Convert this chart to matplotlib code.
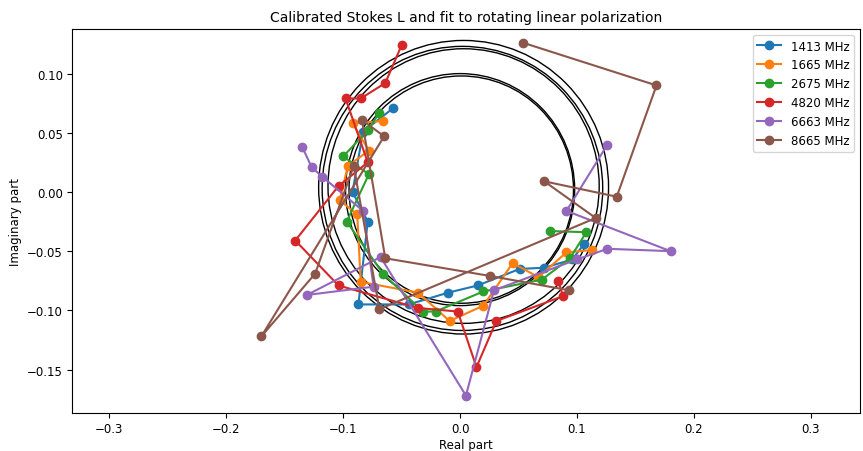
import numpy as np
import matplotlib.pyplot as plt
from matplotlib.patches import Circle

freqs = ['1413 MHz', '1665 MHz', '2675 MHz', '4820 MHz', '6663 MHz', '8665 MHz']

re_1413 = [-0.057, -0.083, -0.092, -0.079, -0.087, -0.044, -0.010, 0.015, 0.051, 0.072, 0.096, 0.106]
im_1413 = [0.071, 0.051, 0.000, -0.025, -0.095, -0.095, -0.085, -0.079, -0.065, -0.064, -0.057, -0.044]

re_1665 = [-0.066, -0.092, -0.078, -0.096, -0.103, -0.088, -0.085, -0.036, -0.009, 0.020, 0.045, 0.067, 0.091, 0.113]
im_1665 = [0.060, 0.058, 0.035, 0.022, -0.007, -0.019, -0.076, -0.085, -0.109, -0.096, -0.060, -0.072, -0.051, -0.049]

re_2675 = [-0.069, -0.079, -0.100, -0.078, -0.097, -0.066, -0.032, -0.021, 0.020, 0.070, 0.094, 0.108, 0.077]
im_2675 = [0.067, 0.052, 0.030, 0.015, -0.025, -0.069, -0.101, -0.101, -0.084, -0.074, -0.056, -0.034, -0.033]

re_4820 = [-0.050, -0.064, -0.085, -0.098, -0.079, -0.104, -0.141, -0.104, -0.036, -0.002, 0.014, 0.031, 0.088, 0.084]
im_4820 = [0.124, 0.092, 0.079, 0.079, 0.025, 0.005, -0.041, -0.079, -0.098, -0.101, -0.148, -0.109, -0.088, -0.075]

re_6663 = [-0.135, -0.127, -0.118, -0.083, -0.074, -0.131, -0.068, 0.005, 0.029, 0.100, 0.126, 0.180, 0.091, 0.126]
im_6663 = [0.038, 0.021, 0.013, -0.016, -0.080, -0.087, -0.055, -0.172, -0.083, -0.057, -0.048, -0.050, -0.016, 0.040]

re_8665 = [0.054, 0.168, 0.134, 0.072, 0.116, -0.069, -0.091, -0.124, -0.170, -0.065, -0.084, -0.064, 0.026, 0.093]
im_8665 = [0.126, 0.090, -0.004, 0.009, -0.022, -0.099, 0.022, -0.069, -0.122, 0.047, 0.061, -0.056, -0.071, -0.083]

series_re = [re_1413, re_1665, re_2675, re_4820, re_6663, re_8665]
series_im = [im_1413, im_1665, im_2675, im_4820, im_6663, im_8665]

# fitted circles: centre (re, im) and radius
circ_re = [0.003, 0.002, 0.003, 0.000, 0.001]
circ_im = [0.004, 0.003, 0.005, 0.002, 0.002]
circ_r = [0.124, 0.120, 0.116, 0.098, 0.096]

fig = plt.figure(figsize=(8.63, 4.52), dpi=100)
ax = fig.add_axes([0.0834, 0.0841, 0.913, 0.8496])

for re, im, lab in zip(series_re, series_im, freqs):
    ax.plot(re, im, 'o-', label=lab)

for cx, cy, r in zip(circ_re, circ_im, circ_r):
    ax.add_patch(Circle((cx, cy), r, fill=False, color='k', lw=1))

ax.set_xlim(-0.332, 0.342)
ax.set_ylim(-0.1867, 0.1377)
ax.tick_params(labelsize=8.5, pad=3)
ax.set_xlabel('Real part', fontsize=8.5, labelpad=2)
ax.set_ylabel('Imaginary part', fontsize=8.5)
ax.set_title('Calibrated Stokes L and fit to rotating linear polarization', fontsize=10)
ax.legend(loc='upper right', fontsize=8.5)

fig.savefig('out.png', dpi=100)
